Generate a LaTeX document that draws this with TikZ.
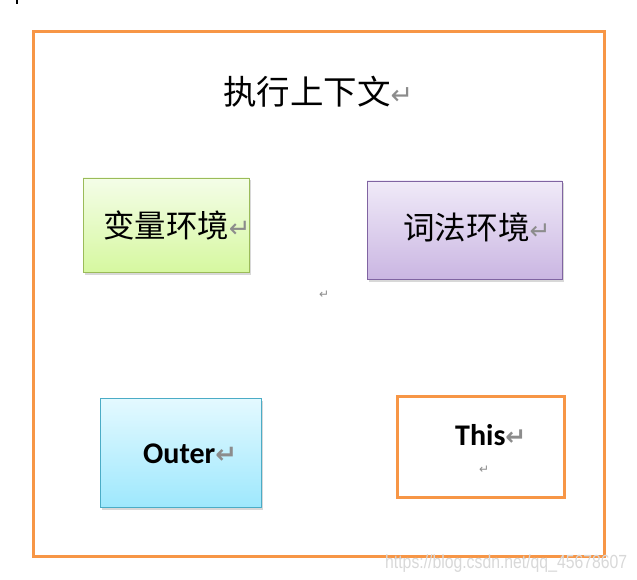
\documentclass[tikz,border=0pt]{standalone}
\usepackage{fontspec}
\usetikzlibrary{shadows}
\newfontfamily\cjk{Noto Sans CJK SC}
\newfontfamily\dejavu{DejaVu Sans}
\newfontfamily\carlito{Carlito}
\newfontfamily\wmfont[FakeStretch=0.83]{Liberation Sans}
\definecolor{frameorange}{HTML}{F79646}
\definecolor{gborder}{HTML}{9BBB59}
\definecolor{gtop}{HTML}{F4FDE8}
\definecolor{gbot}{HTML}{D6F8A0}
\definecolor{pborder}{HTML}{8064A2}
\definecolor{ptop}{HTML}{F0EAF8}
\definecolor{pbot}{HTML}{CAB6E2}
\definecolor{cborder}{HTML}{4BACC6}
\definecolor{ctop}{HTML}{E4F9FF}
\definecolor{cbot}{HTML}{9EE8FD}
\definecolor{retgray}{HTML}{8C8C8C}
\definecolor{wmgray}{HTML}{D8D8D8}
\newcommand\retmark[1]{{\fontsize{#1}{#1}\selectfont\dejavu\color{retgray}↵}}
\begin{document}
\begin{tikzpicture}[x=1pt,y=-1pt,
  frame/.style={draw=frameorange, line width=3pt, fill=white, inner sep=0pt},
  shbox/.style={line width=0.8pt, inner sep=0pt,
    drop shadow={opacity=0.3, shadow xshift=1.5pt, shadow yshift=-2.5pt}},
  greenbox/.style={shbox, draw=gborder, top color=gtop, bottom color=gbot},
  purplebox/.style={shbox, draw=pborder, top color=ptop, bottom color=pbot},
  cyanbox/.style={shbox, draw=cborder, top color=ctop, bottom color=cbot},
  thisbox/.style={draw=frameorange, line width=3pt, fill=white, inner sep=0pt},
  cjklabel/.style={anchor=base west, inner sep=0pt},
  latlabel/.style={anchor=base west, inner sep=0pt, font=\carlito\bfseries\fontsize{30}{30}\selectfont},
  retnode/.style={anchor=base west, inner sep=0pt}
]
\useasboundingbox (0,0) rectangle (637,580);
\fill[black] (15.5,0) rectangle (17.5,4);
\node[frame, minimum width=571pt, minimum height=524pt] (ctx) at (318.5,294) {};
\node[greenbox, minimum width=166pt, minimum height=94pt] (var) at (166,225) {};
\node[purplebox, minimum width=195pt, minimum height=98pt] (lex) at (464.5,230) {};
\node[cyanbox, minimum width=161pt, minimum height=109pt] (outer) at (180.5,452.5) {};
\node[thisbox, minimum width=167pt, minimum height=101pt] (this) at (480.5,446.5) {};
\node[cjklabel, font=\cjk\fontsize{33.5}{33.5}\selectfont] (title) at (223,104.5) {执行上下文\retmark{27}};
\node[cjklabel, font=\cjk\fontsize{31.4}{31.4}\selectfont] (varlabel) at (103,237) {变量环境\retmark{26}};
\node[cjklabel, font=\cjk\fontsize{31.6}{31.6}\selectfont] (lexlabel) at (403,240) {词法环境\retmark{25}};
\node[latlabel] (outerlabel) at (143,463) {Outer\retmark{26}};
\node[latlabel] (thislabel) at (455,445) {This\retmark{25}};
\node[retnode] (mid) at (319,298) {\retmark{12}};
\node[retnode] (thisret) at (479,473) {\retmark{12}};
\node[anchor=base west, inner sep=0pt, text=wmgray, font=\wmfont\fontsize{19}{19}\selectfont] (wm) at (385,568) {https://blog.csdn.net/qq\_45678607};
\end{tikzpicture}
\end{document}
